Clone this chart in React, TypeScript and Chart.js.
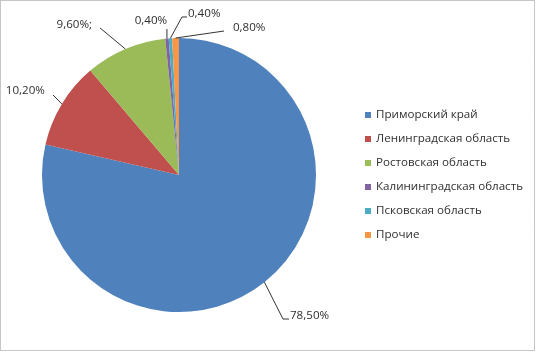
import React, { useEffect, useRef } from "react";
import { Chart, registerables } from "chart.js";

Chart.register(...registerables);

const categories = [
  "Приморский край",
  "Ленинградская область",
  "Ростовская область",
  "Калининградская область",
  "Псковская область",
  "Прочие",
];
const shares = [78.5, 10.2, 9.6, 0.4, 0.4, 0.8];
const labelTexts = ["78,50%", "10,20%", "9,60%;", "0,40%", "0,40%", "0,80%"];
const colors = ["#4F81BD", "#C0504D", "#9BBB59", "#8064A2", "#4BACC6", "#F79646"];

// leader-line / label layout relative to the slice's outer mid-point (style config)
type LabelLayout = { path: [number, number][]; text: [number, number]; align: CanvasTextAlign };
const labelLayout: LabelLayout[] = [
  { path: [[18.6, 36.9], [24.6, 36.9]], text: [25.6, 33.6], align: "left" },
  { path: [[-8.9, -8.9]], text: [-17, -13], align: "right" },
  { path: [[-25.3, -21]], text: [-33.3, -24], align: "right" },
  { path: [[0, -9.5]], text: [-16, -17.5], align: "center" },
  { path: [[11.6, -21.3], [16.6, -21.3]], text: [17.6, -24.3], align: "left" },
  { path: [[48.4, -7]], text: [57.4, -10], align: "left" },
];

const FONT = "11.6px 'Open Sans', 'DejaVu Sans', sans-serif";
const TEXT_COLOR = "#303030";

const decorPlugin = {
  id: "decor",
  beforeDraw(chart: any) {
    const ctx = chart.ctx;
    ctx.save();
    ctx.fillStyle = "#ffffff";
    ctx.fillRect(0, 0, chart.width, chart.height);
    ctx.strokeStyle = "#8a8a8a";
    ctx.lineWidth = 1;
    ctx.setLineDash([1, 1]);
    ctx.strokeRect(0.5, 0.5, 534, 350);
    ctx.restore();
  },
  afterDraw(chart: any) {
    const ctx = chart.ctx;
    const meta = chart.getDatasetMeta(0);
    ctx.save();
    ctx.font = FONT;
    ctx.textBaseline = "middle";
    meta.data.forEach((arc: any, i: number) => {
      const { x, y, startAngle, endAngle, outerRadius } = arc.getProps(
        ["x", "y", "startAngle", "endAngle", "outerRadius"],
        true
      );
      const mid = (startAngle + endAngle) / 2;
      const ax = x + Math.cos(mid) * outerRadius;
      const ay = y + Math.sin(mid) * outerRadius;
      const lay = labelLayout[i];
      ctx.strokeStyle = "#000000";
      ctx.lineWidth = 0.8;
      ctx.beginPath();
      ctx.moveTo(ax, ay);
      lay.path.forEach(([dx, dy]) => ctx.lineTo(ax + dx, ay + dy));
      ctx.stroke();
      ctx.fillStyle = TEXT_COLOR;
      ctx.textAlign = lay.align;
      ctx.fillText(labelTexts[i], ax + lay.text[0], ay + lay.text[1]);
    });
    // legend
    const lx = 365;
    const ly = 115;
    const step = 24;
    categories.forEach((c, i) => {
      const cy = ly + i * step;
      ctx.fillStyle = colors[i];
      ctx.fillRect(lx, cy - 3, 6, 6);
      ctx.fillStyle = TEXT_COLOR;
      ctx.textAlign = "left";
      ctx.fillText(c, lx + 11, cy);
    });
    ctx.restore();
  },
};

export default function App() {
  const ref = useRef<HTMLCanvasElement | null>(null);
  useEffect(() => {
    document.body.style.margin = "0";
    if (!ref.current) return;
    const chart = new Chart(ref.current, {
      type: "pie",
      data: {
        labels: categories,
        datasets: [
          {
            data: shares,
            backgroundColor: colors,
            borderWidth: 0,
          },
        ],
      },
      options: {
        responsive: false,
        animation: false,
        layout: { padding: { left: 42, right: 221, top: 38, bottom: 40 } },
        plugins: {
          legend: { display: false },
          tooltip: { enabled: false },
        },
      },
      plugins: [decorPlugin],
    });
    return () => chart.destroy();
  }, []);
  return (
    <div style={{ width: 537, height: 352 }}>
      <canvas ref={ref} width={537} height={352} style={{ display: "block" }} />
    </div>
  );
}
